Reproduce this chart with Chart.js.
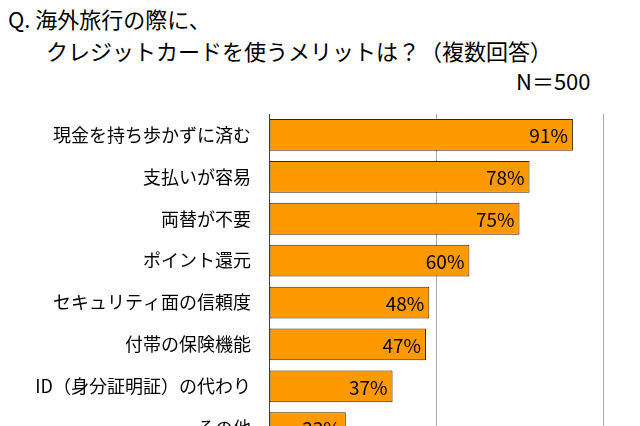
<!DOCTYPE html><html><head><meta charset="utf-8">
<script src="https://cdn.jsdelivr.net/npm/chart.js@4/dist/chart.umd.min.js"></script>
<style>body{margin:0;width:640px;height:426px;overflow:hidden;background:#fff;font-family:"Noto Sans CJK JP",sans-serif;position:relative}
.t{position:absolute;font-size:22px;color:#000;white-space:nowrap}</style></head><body>
<div class="t" style="left:8px;top:2px">Q. 海外旅行の際に、</div>
<div class="t" style="left:46px;top:34px">クレジットカードを使うメリットは？（複数回答）</div>
<div class="t" style="left:516px;top:64px">N＝500</div>
<div style="position:absolute;left:0;top:0;width:640px;height:470px"><canvas id="c"></canvas></div>
<script>
const categories=["現金を持ち歩かずに済む","支払いが容易","両替が不要","ポイント還元","セキュリティ面の信頼度","付帯の保険機能","ID（身分証明証）の代わり","その他"];
const values=[91,78,75,60,48,47,37,23];
const ticks=[0,50,100];
const lbl={id:'lbl',afterDatasetsDraw(ch){const c=ch.ctx;const m=ch.getDatasetMeta(0);c.save();c.font='19px "Noto Sans CJK JP", sans-serif';c.fillStyle='#000';c.textAlign='right';c.textBaseline='middle';
m.data.forEach((b,i)=>{c.fillText(values[i]+'%',b.x-5,b.y+1)});c.restore();}};
new Chart(document.getElementById('c'),{type:'bar',data:{labels:categories,datasets:[{data:values,backgroundColor:'#ff9900',borderColor:'#3a2500',borderWidth:1,borderSkipped:false,barPercentage:0.76,categoryPercentage:1}]},
options:{indexAxis:'y',responsive:true,maintainAspectRatio:false,animation:false,layout:{padding:{top:114,right:37,bottom:0,left:10}},
plugins:{legend:{display:false},tooltip:{enabled:false}},
scales:{x:{min:0,max:100,afterBuildTicks:s=>{s.ticks=ticks.map(v=>({value:v}))},ticks:{display:false},grid:{color:'#aaa',drawTicks:false},border:{display:false}},
y:{afterFit:s=>{s.width=259},ticks:{color:'#000',font:{size:18,family:'"Noto Sans CJK JP", sans-serif'},padding:10},grid:{display:false},border:{color:'#444'}}}},plugins:[lbl]});
</script></body></html>
